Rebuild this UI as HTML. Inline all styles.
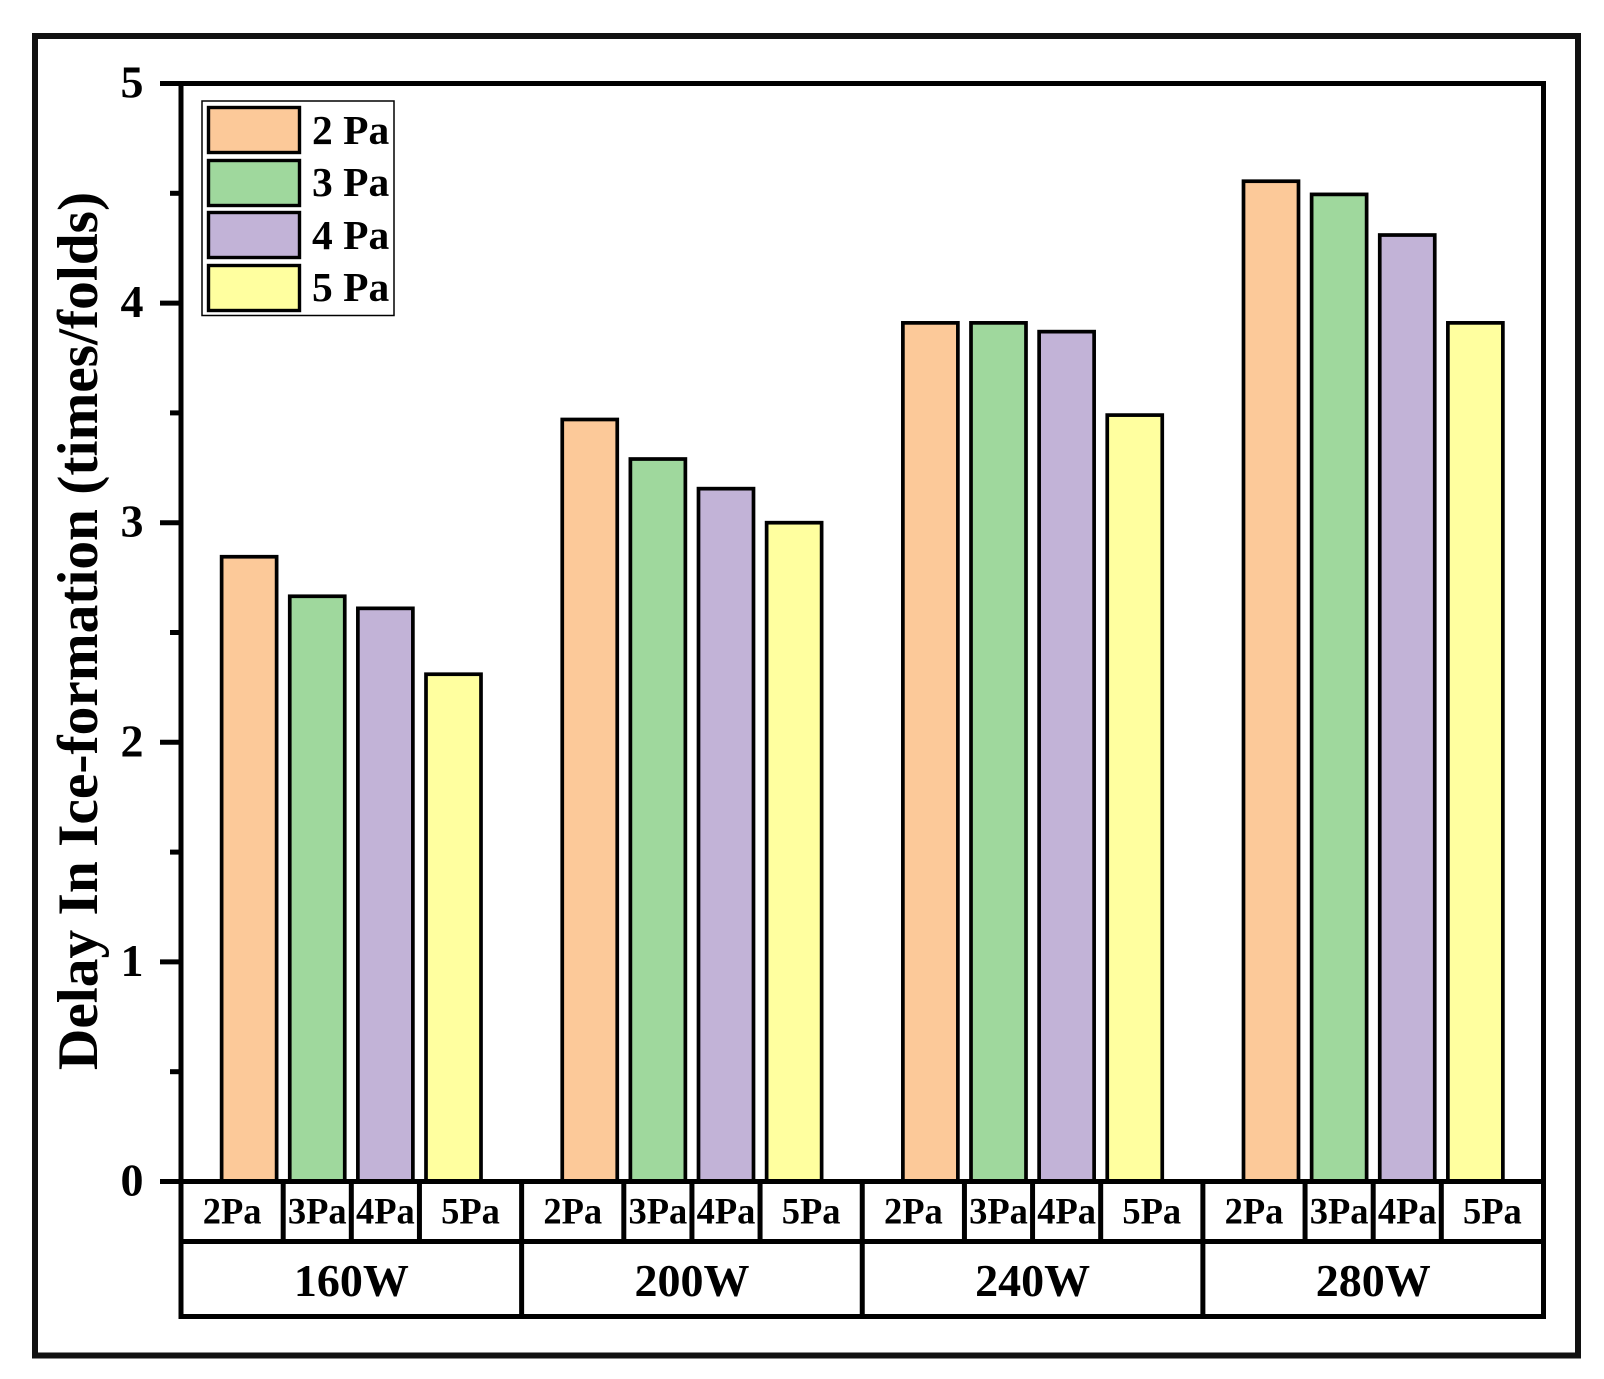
<!DOCTYPE html>
<html lang="en">
<head>
<meta charset="utf-8">
<title>Delay In Ice-formation Bar Chart</title>
<style>
html,body{margin:0;padding:0;background:#fff;width:1604px;height:1379px;overflow:hidden}
svg{display:block}
text{font-family:"Liberation Serif",serif;font-weight:bold;fill:#000}
</style>
</head>
<body>
<svg id="chart" xmlns="http://www.w3.org/2000/svg" width="1604" height="1379" viewBox="0 0 1604 1379">
  <rect x="35" y="36" width="1543" height="1319.5" fill="none" stroke="#111" stroke-width="6"/>
  <text transform="translate(97 631) rotate(-90)" text-anchor="middle" font-size="57.4">Delay In Ice-formation (times/folds)</text>
  <g id="marks"></g>
  <g id="axes"></g>
  <g>
    <rect x="202" y="101" width="192" height="214.5" fill="#fff" stroke="#000" stroke-width="1.5"/>
    <rect x="208.5" y="107.5" width="91" height="45" fill="#fcc999" stroke="#000" stroke-width="3.4"/>
    <rect x="208.5" y="160.5" width="91" height="45" fill="#9fd89d" stroke="#000" stroke-width="3.4"/>
    <rect x="208.5" y="212.5" width="91" height="45" fill="#c2b3d7" stroke="#000" stroke-width="3.4"/>
    <rect x="208.5" y="265.5" width="91" height="45" fill="#ffff9f" stroke="#000" stroke-width="3.4"/>
    <text x="312" y="144" font-size="41.5">2 Pa</text>
    <text x="312" y="196" font-size="41.5">3 Pa</text>
    <text x="312" y="249" font-size="41.5">4 Pa</text>
    <text x="312" y="301" font-size="41.5">5 Pa</text>
  </g>
</svg>
<script>
const groups = ["160W", "200W", "240W", "280W"];
const pressures = ["2Pa", "3Pa", "4Pa", "5Pa"];
const series2Pa = [2.845, 3.47, 3.91, 4.555];
const series3Pa = [2.665, 3.29, 3.91, 4.495];
const series4Pa = [2.61, 3.155, 3.87, 4.31];
const series5Pa = [2.31, 3.00, 3.49, 3.91];
const majorTicks = [0, 1, 2, 3, 4, 5];
const minorTicks = [0.5, 1.5, 2.5, 3.5, 4.5];

const allSeries = [series2Pa, series3Pa, series4Pa, series5Pa];
const fills = ["#fcc999", "#9fd89d", "#c2b3d7", "#ffff9f"];
const NS = "http://www.w3.org/2000/svg";
const plot = {left: 181, right: 1543.5, top: 83.5, bottom: 1181.5, row1: 1241.5, row2: 1316.5};
const slotWidth = (plot.right - plot.left) / 20;

function xScale(slot) { return plot.left + slot * slotWidth; }
function yScale(v) { return plot.bottom - (v / 5) * (plot.bottom - plot.top); }

function make(tag, attrs, parent) {
  const node = document.createElementNS(NS, tag);
  for (const k in attrs) node.setAttribute(k, attrs[k]);
  parent.appendChild(node);
  return node;
}

const marks = document.getElementById("marks");
const axes = document.getElementById("axes");

groups.forEach(function (g, gi) {
  pressures.forEach(function (p, si) {
    const v = allSeries[si][gi];
    const cx = xScale(gi * 5 + si + 1);
    const el = make("rect", {
      x: cx - 27.5, y: yScale(v), width: 55, height: plot.bottom - yScale(v),
      fill: fills[si], stroke: "#000", "stroke-width": 3.7
    }, marks);
    
    
  });
});

function line(x1, y1, x2, y2, name, width) {
  const el = make("line", {x1: x1, y1: y1, x2: x2, y2: y2, stroke: "#000", "stroke-width": width || 5, "stroke-linecap": "square"}, axes);
  
  
  return el;
}

function label(x, y, size, anchor, content, name) {
  const el = make("text", {x: x, y: y, "font-size": size, "text-anchor": anchor}, axes);
  el.textContent = content;
  
  
  return el;
}

line(plot.left, plot.top, plot.right, plot.top, "plot-top-border");
line(plot.right, plot.top, plot.right, plot.row2, "plot-right-border");
line(plot.left, plot.top, plot.left, plot.row2, "y-axis-line");
line(plot.left, plot.bottom, plot.right, plot.bottom, "x-axis-line");
line(plot.left, plot.row1, plot.right, plot.row1, "table-row-divider");
line(plot.left, plot.row2, plot.right, plot.row2, "table-bottom-border");

majorTicks.forEach(function (t) {
  const y = yScale(t);
  const tick = make("line", {x1: 160, y1: y, x2: plot.left, y2: y, stroke: "#000", "stroke-width": 5}, axes);
  
  
  label(143.5, y + 14, 46, "end", String(t), "y-tick-label-" + t);
});

minorTicks.forEach(function (t) {
  const y = yScale(t);
  const tick = make("line", {x1: 170, y1: y, x2: plot.left, y2: y, stroke: "#000", "stroke-width": 5}, axes);
  
  
});

groups.forEach(function (g, gi) {
  const start = gi * 5;
  const edges = [start, start + 1.5, start + 2.5, start + 3.5, start + 5];
  pressures.forEach(function (p, si) {
    const cx = (xScale(edges[si]) + xScale(edges[si + 1])) / 2;
    label(cx, 1223.5, 36.5, "middle", p, "x-label-" + g.toLowerCase() + "-" + p.toLowerCase());
    if (si < 3) {
      line(xScale(edges[si + 1]), plot.bottom, xScale(edges[si + 1]), plot.row1, "pressure-divider-" + g.toLowerCase() + "-" + (si + 1));
    }
  });
  label((xScale(start) + xScale(start + 5)) / 2, 1296, 46, "middle", g, "group-label-" + g.toLowerCase());
  if (gi < groups.length - 1) {
    line(xScale(start + 5), plot.bottom, xScale(start + 5), plot.row2, "group-divider-" + g.toLowerCase());
  }
});
</script>
</body>
</html>
